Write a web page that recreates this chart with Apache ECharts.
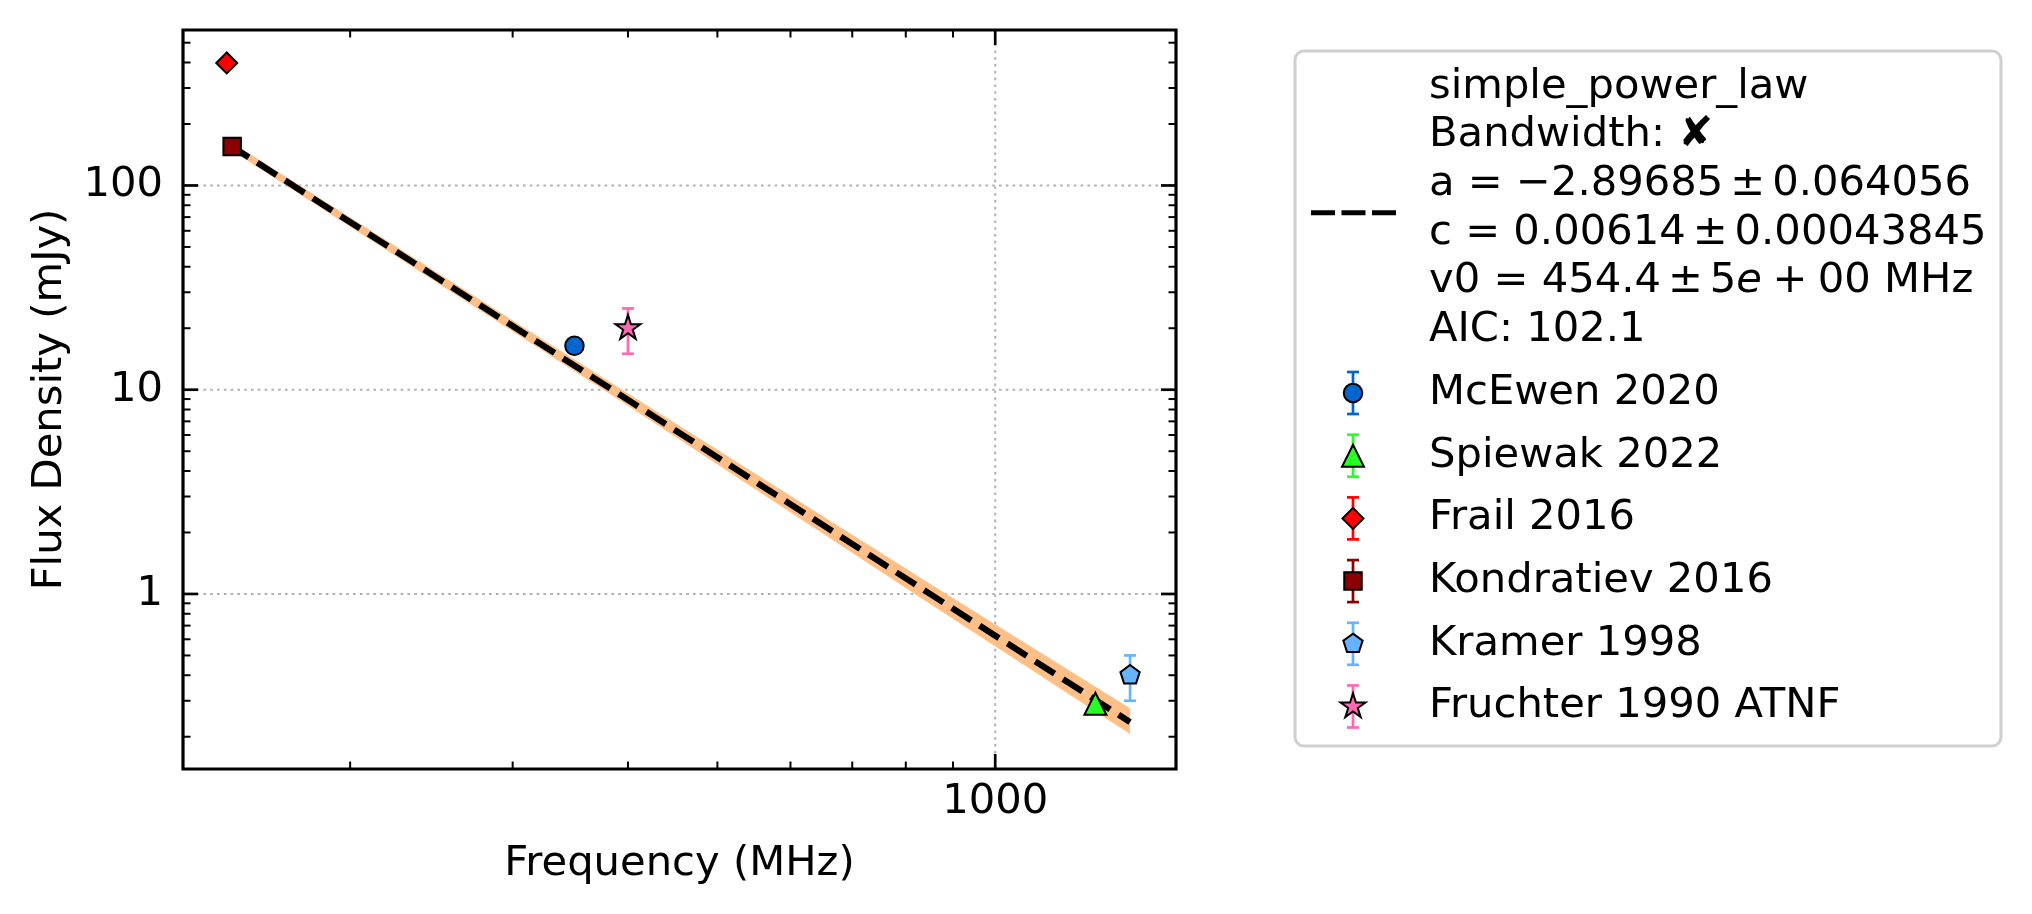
<!DOCTYPE html>
<html>
<head>
<meta charset="utf-8">
<script src="https://cdn.jsdelivr.net/npm/echarts@6/dist/echarts.min.js"></script>
<style>
html, body { margin: 0; padding: 0; background: #fff; }
#chart { width: 2032px; height: 914px; }
</style>
</head>
<body>
<div id="chart"></div>
<script>
// spectrum of one pulsar: flux density vs frequency, with a simple power-law fit

const sources = ['McEwen 2020', 'Spiewak 2022', 'Frail 2016', 'Kondratiev 2016', 'Kramer 1998', 'Fruchter 1990 ATNF'];
const freqs = [350, 1284, 147, 149, 1400, 400];        // MHz
const fluxes = [16.4, 0.29, 398, 155, 0.40, 20];        // mJy
const fluxErrs = [1.2, 0.006, 10, 12, 0.1, 5];

// fit line and its uncertainty band
const fitFreqs = [148, 390, 856, 1400];
const fitFlux = [158, 9.6, 0.98, 0.236];
const bandLow = [151, 9.0, 0.875, 0.206];
const bandHigh = [165, 10.3, 1.10, 0.276];

// ticks
const xMajorTicks = [1000];
const xMinorTicks = [200, 300, 400, 500, 600, 700, 800, 900];
const yMajorTicks = [1, 10, 100];
const yMinorTicks = [0.2, 0.3, 0.4, 0.5, 0.6, 0.7, 0.8, 0.9,
                     2, 3, 4, 5, 6, 7, 8, 9,
                     20, 30, 40, 50, 60, 70, 80, 90,
                     200, 300, 400, 500];

// mathtext-like narrow spaces around the binary operators
const fitLabel = ['simple_power_law', 'Bandwidth: \u2718', 'a = \u22122.89685\u2006\u00b1\u20060.064056',
                  'c = 0.00614\u2006\u00b1\u20060.00043845', '{n|v0 = 454.4\u2006\u00b1\u20065}{i|e}{n|\u2005+\u200500 MHz}', 'AIC: 102.1'];

// styles
const colors = ['#0066d0', '#26ff26', '#ff0000', '#8b0000', '#66b3ff', '#ff69b4'];
const shapes = ['circle', 'triangle', 'diamond', 'square', 'pentagon', 'star'];
const shapeSizes = [18.5, 22, 21, 17.5, 19.3, 25];
const FONT = 'DejaVu Sans';
const FS = 41.7;

function ringPoints(n, r, inner) {
    const pts = [];
    const steps = inner ? n * 2 : n;
    for (let k = 0; k < steps; k++) {
        const rr = inner && k % 2 ? r * inner : r;
        const a = -Math.PI / 2 + k * 2 * Math.PI / steps;
        pts.push([rr * Math.cos(a), rr * Math.sin(a)]);
    }
    return pts;
}
function toPath(pts) {
    return 'path://' + pts.map((p, i) => (i ? 'L' : 'M') + p[0].toFixed(4) + ' ' + p[1].toFixed(4)).join(' ') + 'Z';
}

// echarts symbol settings per shape
function symbolFor(shape, size) {
    if (shape === 'circle') return { symbol: 'circle', symbolSize: size };
    if (shape === 'triangle') return { symbol: 'triangle', symbolSize: [size, size] };
    if (shape === 'diamond') return { symbol: 'diamond', symbolSize: [size, size] };
    if (shape === 'square') return { symbol: 'rect', symbolSize: size };
    const r = size / 1.902;
    const pts = shape === 'star' ? ringPoints(5, 1, 0.382) : ringPoints(5, 1);
    return { symbol: toPath(pts), symbolSize: [size, r * 1.809], symbolOffset: [0, -0.0955 * r] };
}

// same shapes as zrender graphic elements for the legend
function legendShape(shape, size, cx, cy, color) {
    const style = { fill: color, stroke: '#000', lineWidth: 2 };
    if (shape === 'circle') return { type: 'circle', shape: { cx, cy, r: size / 2 }, style };
    if (shape === 'square') return { type: 'rect', shape: { x: cx - size / 2, y: cy - size / 2, width: size, height: size }, style };
    let pts;
    const h = size / 2;
    if (shape === 'triangle') pts = [[0, -h], [h, h], [-h, h]];
    else if (shape === 'diamond') pts = [[0, -h], [h, 0], [0, h], [-h, 0]];
    else {
        const r = size / 1.902;
        pts = shape === 'star' ? ringPoints(5, r, 0.382) : ringPoints(5, r);
    }
    return { type: 'polygon', shape: { points: pts.map(p => [cx + p[0], cy + p[1]]) }, style };
}

const chart = echarts.init(document.getElementById('chart'));

function tickSeries(values, isX, len, width) {
    return {
        type: 'custom', silent: true, z: 8, clip: false,
        data: values.map(v => isX ? [v, 1] : [1000, v]),
        renderItem: (params, api) => {
            const cs = params.coordSys;
            const p = api.coord([api.value(0), api.value(1)]);
            const style = { stroke: '#000', lineWidth: width };
            if (isX) {
                const b = cs.y + cs.height;
                return { type: 'group', children: [
                    { type: 'line', shape: { x1: p[0], y1: b, x2: p[0], y2: b - len }, style },
                    { type: 'line', shape: { x1: p[0], y1: cs.y, x2: p[0], y2: cs.y + len }, style }
                ] };
            }
            const r = cs.x + cs.width;
            return { type: 'group', children: [
                { type: 'line', shape: { x1: cs.x, y1: p[1], x2: cs.x + len, y2: p[1] }, style },
                { type: 'line', shape: { x1: r, y1: p[1], x2: r - len, y2: p[1] }, style }
            ] };
        }
    };
}

function gridSeries(values, isX) {
    return {
        type: 'custom', silent: true, z: 1,
        data: values.map(v => isX ? [v, 1] : [1000, v]),
        renderItem: (params, api) => {
            const cs = params.coordSys;
            const p = api.coord([api.value(0), api.value(1)]);
            const style = { stroke: '#b0b0b0', lineWidth: 2, lineDash: [2.6, 4.2] };
            return isX
                ? { type: 'line', shape: { x1: p[0], y1: cs.y, x2: p[0], y2: cs.y + cs.height }, style }
                : { type: 'line', shape: { x1: cs.x, y1: p[1], x2: cs.x + cs.width, y2: p[1] }, style };
        }
    };
}

const logLabel = v => {
    const e = Math.log10(v);
    return Math.abs(e - Math.round(e)) < 1e-6 ? String(+v.toPrecision(6)) : '';
};

const series = [
    gridSeries(xMajorTicks, true),
    gridSeries(yMajorTicks, false),
    {
        type: 'custom', name: 'band', silent: true, z: 2,
        data: fitFreqs.map((f, i) => [f, fitFlux[i]]),
        renderItem: (params, api) => {
            if (params.dataIndex !== 0) return;
            const upper = fitFreqs.map((f, i) => api.coord([f, bandHigh[i]]));
            const lower = fitFreqs.map((f, i) => api.coord([f, bandLow[i]])).reverse();
            return { type: 'polygon', shape: { points: upper.concat(lower) }, style: { fill: '#ffbf86' } };
        }
    },
    {
        type: 'line', name: 'simple_power_law', z: 3, silent: true,
        data: fitFreqs.map((f, i) => [f, fitFlux[i]]),
        showSymbol: false, symbol: 'none',
        lineStyle: { color: '#000', width: 6.2, type: [23, 10], cap: 'butt' }
    },
    {
        type: 'custom', name: 'errors', silent: true, z: 4,
        data: sources.map((s, i) => [freqs[i], fluxes[i], fluxErrs[i], i]),
        renderItem: (params, api) => {
            const f = api.value(0), v = api.value(1), e = api.value(2);
            const style = { stroke: colors[api.value(3)], lineWidth: 2.7 };
            const top = api.coord([f, v + e]);
            const bot = api.coord([f, v - e]);
            return { type: 'group', children: [
                { type: 'line', shape: { x1: top[0], y1: top[1], x2: bot[0], y2: bot[1] }, style },
                { type: 'line', shape: { x1: top[0] - 6, y1: top[1], x2: top[0] + 6, y2: top[1] }, style },
                { type: 'line', shape: { x1: bot[0] - 6, y1: bot[1], x2: bot[0] + 6, y2: bot[1] }, style }
            ] };
        }
    }
];

sources.forEach((name, i) => {
    series.push(Object.assign({
        type: 'scatter', name, z: 5, silent: true,
        data: [[freqs[i], fluxes[i]]],
        itemStyle: { color: colors[i], borderColor: '#000', borderWidth: 2, opacity: 1 }
    }, symbolFor(shapes[i], shapeSizes[i])));
});

series.push(tickSeries(xMajorTicks, true, 15, 2.7));
series.push(tickSeries(xMinorTicks, true, 7.5, 2));
series.push(tickSeries(yMajorTicks, false, 15, 2.7));
series.push(tickSeries(yMinorTicks, false, 7.5, 2));

// legend, drawn by hand so the error bar handles match
const LX = 1295, LY = 51, LW = 706, LH = 695;
const textX = 1429, handleX = 1353;
const legend = [{
    type: 'rect', z: 20,
    shape: { x: LX, y: LY, width: LW, height: LH, r: 9 },
    style: { fill: '#fff', stroke: '#d0d0d0', lineWidth: 3 }
}, {
    type: 'line', z: 21,
    shape: { x1: 1311, y1: 212.7, x2: 1396, y2: 212.7 },
    style: { stroke: '#000', lineWidth: 5, lineDash: [24, 6.5] }
}];
fitLabel.forEach((t, k) => {
    legend.push({
        type: 'text', z: 21, x: textX, y: 86.7 + k * 48.7,
        style: {
            text: t, fill: '#000', fontSize: FS, fontFamily: FONT, verticalAlign: 'middle', textAlign: 'left',
            rich: { n: { fontSize: FS, fontFamily: FONT }, i: { fontSize: FS, fontFamily: FONT, fontStyle: 'italic' } }
        }
    });
});
sources.forEach((name, i) => {
    const cy = 393 + i * 62.7;
    const bar = { stroke: colors[i], lineWidth: 2.7 };
    legend.push({ type: 'line', z: 21, shape: { x1: handleX, y1: cy - 21, x2: handleX, y2: cy + 21 }, style: bar });
    legend.push({ type: 'line', z: 21, shape: { x1: handleX - 6, y1: cy - 21, x2: handleX + 6, y2: cy - 21 }, style: bar });
    legend.push({ type: 'line', z: 21, shape: { x1: handleX - 6, y1: cy + 21, x2: handleX + 6, y2: cy + 21 }, style: bar });
    legend.push(Object.assign({ z: 22 }, legendShape(shapes[i], shapeSizes[i], handleX, cy, colors[i])));
    legend.push({
        type: 'text', z: 21, x: textX, y: cy,
        style: { text: name, fill: '#000', fontSize: FS, fontFamily: FONT, verticalAlign: 'middle', textAlign: 'left' }
    });
});

chart.setOption({
    animation: false,
    backgroundColor: '#fff',
    textStyle: { fontFamily: FONT },
    grid: { left: 183, top: 30, width: 993, height: 739, show: true, borderColor: '#000', borderWidth: 3.2, backgroundColor: 'transparent' },
    xAxis: {
        type: 'log', logBase: 10, min: 131.8, max: 1570,
        name: 'Frequency (MHz)', nameLocation: 'middle', nameGap: 74,
        nameTextStyle: { color: '#000', fontSize: FS, fontFamily: FONT },
        axisLine: { show: false }, axisTick: { show: false }, splitLine: { show: false }, minorTick: { show: false },
        axisLabel: { color: '#000', fontSize: FS, fontFamily: FONT, margin: 12, showMinLabel: false, showMaxLabel: false, formatter: logLabel }
    },
    yAxis: {
        type: 'log', logBase: 10, min: 0.139, max: 577,
        name: 'Flux Density (mJy)', nameLocation: 'middle', nameGap: 112,
        nameTextStyle: { color: '#000', fontSize: FS, fontFamily: FONT },
        axisLine: { show: false }, axisTick: { show: false }, splitLine: { show: false }, minorTick: { show: false },
        axisLabel: { color: '#000', fontSize: FS, fontFamily: FONT, margin: 20, showMinLabel: false, showMaxLabel: false, formatter: logLabel }
    },
    series,
    graphic: { elements: legend }
});
</script>
</body>
</html>
